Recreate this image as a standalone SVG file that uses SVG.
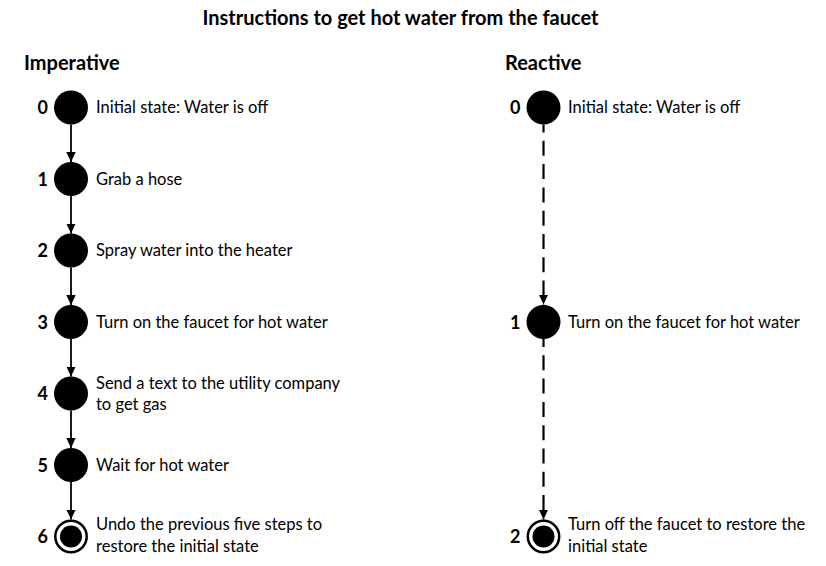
<svg xmlns="http://www.w3.org/2000/svg" width="826" height="566" viewBox="0 0 826 566">
<style>
text{font-family:Lato,"Liberation Sans",sans-serif;fill:#000}
.t{font-size:20px;font-weight:bold}
.h{font-size:20px;font-weight:bold}
.n{font-size:18px;font-weight:bold;text-anchor:end}
.l{font-size:16.5px}
.dot{fill:#000}
.ring{fill:none;stroke:#000;stroke-width:2.5}
.c{stroke:#000;stroke-width:1.8;fill:none}
.d{stroke-width:2.2;stroke-dasharray:15 8.3;stroke-dashoffset:7}
</style>
<defs>
<marker id="ah" markerWidth="10" markerHeight="14" refX="10" refY="7" orient="auto" markerUnits="userSpaceOnUse">
<path d="M0,2.3 L10,7 L0,11.7 Z" fill="#000"/>
</marker>
</defs>
<rect width="826" height="566" fill="#fff"/>
<text class="t" x="400.5" y="25" text-anchor="middle">Instructions to get hot water from the faucet</text>
<text class="h" x="24" y="69.5">Imperative</text>
<text class="h" x="505" y="69.5">Reactive</text>

<g id="connectors">
<line class="c" x1="71" y1="124.5" x2="71" y2="162" marker-end="url(#ah)"/>
<line class="c" x1="71" y1="196" x2="71" y2="233.5" marker-end="url(#ah)"/>
<line class="c" x1="71" y1="267.5" x2="71" y2="305" marker-end="url(#ah)"/>
<line class="c" x1="71" y1="339" x2="71" y2="376.5" marker-end="url(#ah)"/>
<line class="c" x1="71" y1="410.5" x2="71" y2="448" marker-end="url(#ah)"/>
<line class="c" x1="71" y1="482" x2="71" y2="519.5" marker-end="url(#ah)"/>
<line class="c d" x1="543.5" y1="124.5" x2="543.5" y2="304.5" marker-end="url(#ah)"/>
<line class="c d" x1="543.5" y1="339" x2="543.5" y2="519.5" marker-end="url(#ah)"/>
</g>

<g id="imp0"><circle class="dot" cx="71" cy="107.5" r="17"/><text class="n" x="48" y="114">0</text><text class="l" x="96" y="113">Initial state: Water is off</text></g>
<g id="imp1"><circle class="dot" cx="71" cy="179" r="17"/><text class="n" x="48" y="185.5">1</text><text class="l" x="96" y="184.5">Grab a hose</text></g>
<g id="imp2"><circle class="dot" cx="71" cy="250.5" r="17"/><text class="n" x="48" y="257">2</text><text class="l" x="96" y="256">Spray water into the heater</text></g>
<g id="imp3"><circle class="dot" cx="71" cy="322" r="17"/><text class="n" x="48" y="328.5">3</text><text class="l" x="96" y="327.5">Turn on the faucet for hot water</text></g>
<g id="imp4"><circle class="dot" cx="71" cy="393.5" r="17"/><text class="n" x="48" y="400">4</text><text class="l" x="96" y="388.5">Send a text to the utility company</text><text class="l" x="96" y="410">to get gas</text></g>
<g id="imp5"><circle class="dot" cx="71" cy="465" r="17"/><text class="n" x="48" y="471.5">5</text><text class="l" x="96" y="470.5">Wait for hot water</text></g>
<g id="imp6"><circle class="ring" cx="71" cy="536.5" r="15.7"/><circle class="dot" cx="71" cy="536.5" r="11"/><text class="n" x="48" y="543">6</text><text class="l" x="96" y="530">Undo the previous five steps to</text><text class="l" x="96" y="551.5">restore the initial state</text></g>

<g id="rea0"><circle class="dot" cx="543.5" cy="107.5" r="17"/><text class="n" x="520.5" y="114">0</text><text class="l" x="568" y="113">Initial state: Water is off</text></g>
<g id="rea1"><circle class="dot" cx="543.5" cy="322" r="17"/><text class="n" x="520.5" y="328.5">1</text><text class="l" x="568" y="327.5">Turn on the faucet for hot water</text></g>
<g id="rea2"><circle class="ring" cx="543.5" cy="536.5" r="15.7"/><circle class="dot" cx="543.5" cy="536.5" r="11"/><text class="n" x="520.5" y="543">2</text><text class="l" x="568" y="530">Turn off the faucet to restore the</text><text class="l" x="568" y="551.5">initial state</text></g>
</svg>
